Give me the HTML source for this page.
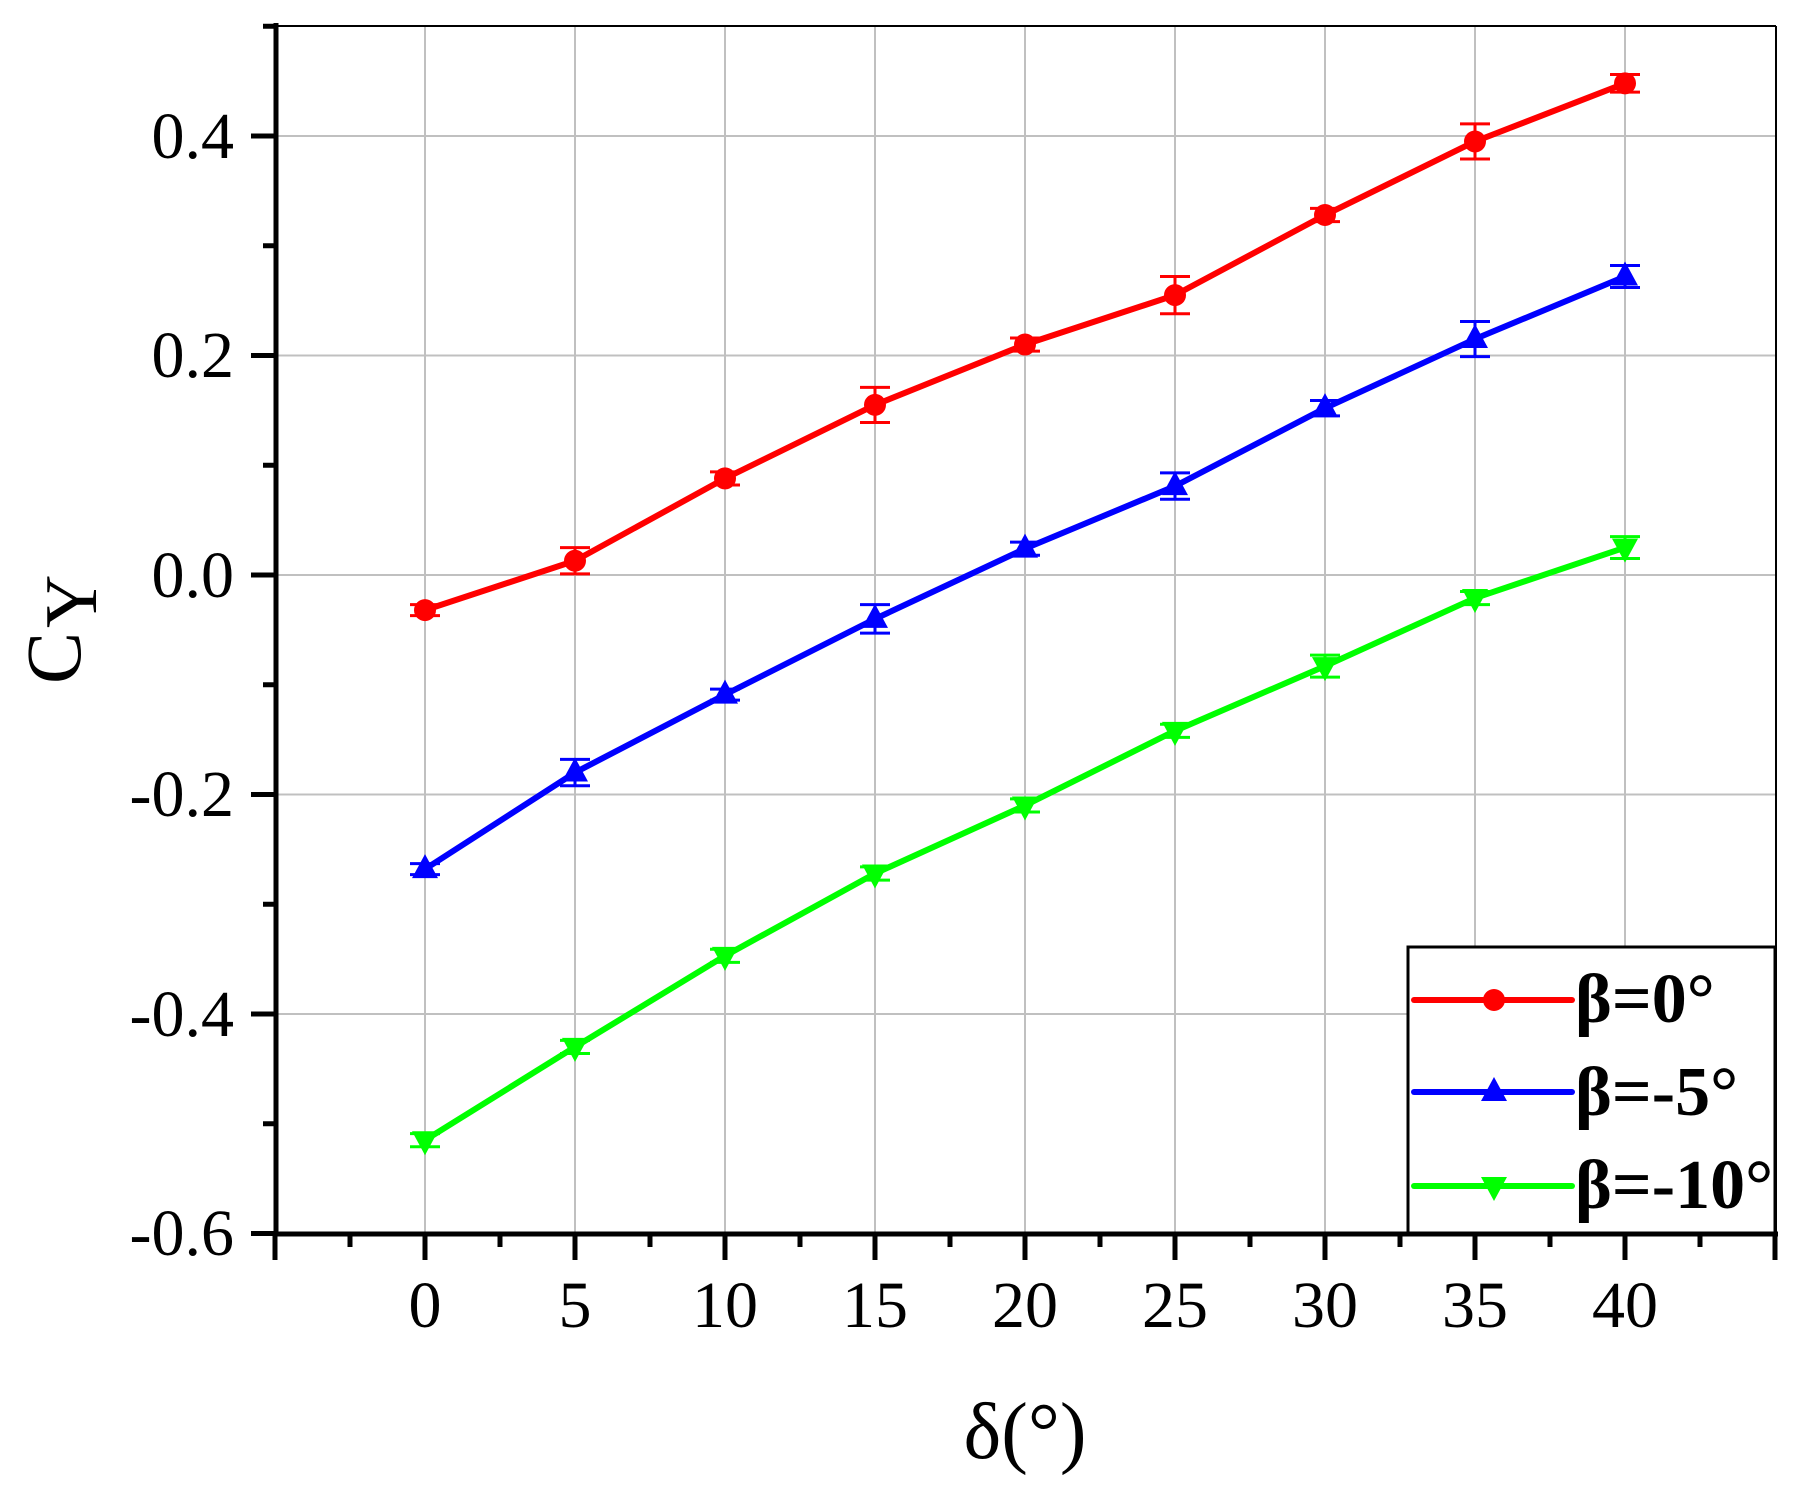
<!DOCTYPE html>
<html><head><meta charset="utf-8"><style>html,body{margin:0;padding:0;background:#fff}svg{display:block}svg text{font-family:"Liberation Serif","Times New Roman",Times,serif}</style></head>
<body>
<svg xmlns="http://www.w3.org/2000/svg" width="1800" height="1499" viewBox="0 0 1800 1499">
<rect width="1800" height="1499" fill="#fff"/>
<g stroke="#c0c0c0" stroke-width="2">
<line x1="425" y1="26" x2="425" y2="1234"/><line x1="575" y1="26" x2="575" y2="1234"/><line x1="725" y1="26" x2="725" y2="1234"/><line x1="875" y1="26" x2="875" y2="1234"/><line x1="1025" y1="26" x2="1025" y2="1234"/><line x1="1175" y1="26" x2="1175" y2="1234"/><line x1="1325" y1="26" x2="1325" y2="1234"/><line x1="1475" y1="26" x2="1475" y2="1234"/><line x1="1625" y1="26" x2="1625" y2="1234"/>
<line x1="276" y1="136" x2="1776" y2="136"/><line x1="276" y1="355.5" x2="1776" y2="355.5"/><line x1="276" y1="575" x2="1776" y2="575"/><line x1="276" y1="794.5" x2="1776" y2="794.5"/><line x1="276" y1="1014" x2="1776" y2="1014"/>
</g>
<line x1="276" y1="26" x2="1776" y2="26" stroke="#000" stroke-width="2"/>
<line x1="1776" y1="26" x2="1776" y2="1234" stroke="#000" stroke-width="2"/>
<g id="data"></g>
<rect x="1408" y="947" width="367" height="287" fill="#fff" stroke="#000" stroke-width="3"/>
<g stroke="#000" stroke-width="5" fill="none">
<line x1="276" y1="23" x2="276" y2="1236"/>
<line x1="273" y1="1234" x2="1778" y2="1234"/>
</g>
<g id="ticks" stroke="#000" stroke-width="5"></g>
<g font-size="66" text-anchor="end" fill="#000">
<text x="234" y="158">0.4</text><text x="234" y="377">0.2</text><text x="234" y="597">0.0</text><text x="234" y="816">-0.2</text><text x="234" y="1036">-0.4</text><text x="234" y="1255">-0.6</text>
</g>
<g font-size="66" text-anchor="middle" fill="#000">
<text x="425" y="1327">0</text><text x="575" y="1327">5</text><text x="725" y="1327">10</text><text x="875" y="1327">15</text><text x="1025" y="1327">20</text><text x="1175" y="1327">25</text><text x="1325" y="1327">30</text><text x="1475" y="1327">35</text><text x="1625" y="1327">40</text>
</g>
<text x="1025" y="1458" font-size="80" text-anchor="middle">δ(°)</text>
<text transform="translate(80,684) rotate(-90)" font-size="78">C<tspan font-size="74" dy="16" dx="4">Y</tspan></text>
<g font-size="70" font-weight="bold" fill="#000">
<text x="1575" y="1022">β=0°</text><text x="1575" y="1115">β=-5°</text><text x="1575" y="1208">β=-10°</text>
</g>
<g stroke-width="6" stroke-linecap="round">
<line x1="1414" y1="1000" x2="1572" y2="1000" stroke="#ff0000"/>
<line x1="1414" y1="1092" x2="1572" y2="1092" stroke="#0000ff"/>
<line x1="1414" y1="1186" x2="1572" y2="1186" stroke="#00ff00"/>
</g>
<circle cx="1494" cy="1000" r="11" fill="#ff0000"/>
<polygon points="1494,1077 1507,1101 1481,1101" fill="#0000ff"/>
<polygon points="1494,1201 1507,1177 1481,1177" fill="#00ff00"/>
<script>
var NS="http://www.w3.org/2000/svg";
function X(v){return 425+30*v}function Y(v){return 575-1097.5*v}
function el(p,t,a){var e=document.createElementNS(NS,t);for(var k in a)e.setAttribute(k,a[k]);p.appendChild(e);return e}
var tk=document.getElementById('ticks');
for(var i=0;i<=20;i++){var v=-5+i*2.5;var x=X(v);var maj=i%2==0;el(tk,'line',{x1:x,y1:1234,x2:x,y2:maj?1260:1247});}
for(var i=0;i<=11;i++){var v=-0.6+i*0.1;var y=Y(v);var maj=i%2==0;el(tk,'line',{x1:maj?251:263,y1:y,x2:276,y2:y});}
var S=[
{c:'#ff0000',m:'o',y:[-0.032,0.013,0.088,0.155,0.21,0.255,0.328,0.395,0.448],e:[0.005,0.012,0.006,0.016,0.006,0.017,0.006,0.016,0.008]},
{c:'#0000ff',m:'u',y:[-0.268,-0.18,-0.109,-0.04,0.024,0.081,0.152,0.215,0.272],e:[0.005,0.012,0.005,0.013,0.006,0.012,0.007,0.016,0.01]},
{c:'#00ff00',m:'d',y:[-0.515,-0.43,-0.347,-0.272,-0.21,-0.142,-0.083,-0.021,0.025],e:[0.006,0.006,0.006,0.006,0.006,0.006,0.01,0.006,0.01]}];
var g=document.getElementById('data');
S.forEach(function(s){var pts=s.y.map(function(v,i){return X(i*5)+','+Y(v)}).join(' ');
el(g,'polyline',{points:pts,fill:'none',stroke:s.c,'stroke-width':6,'stroke-linejoin':'round'});
s.y.forEach(function(v,i){var x=X(i*5),y=Y(v),t=Y(v+s.e[i]),b=Y(v-s.e[i]);
el(g,'line',{x1:x,y1:t,x2:x,y2:b,stroke:s.c,'stroke-width':3});
el(g,'line',{x1:x-15,y1:t,x2:x+15,y2:t,stroke:s.c,'stroke-width':3});
el(g,'line',{x1:x-15,y1:b,x2:x+15,y2:b,stroke:s.c,'stroke-width':3});
if(s.m=='o')el(g,'circle',{cx:x,cy:y,r:11,fill:s.c});
else if(s.m=='u')el(g,'polygon',{points:x+','+(y-15)+' '+(x+13)+','+(y+9)+' '+(x-13)+','+(y+9),fill:s.c});
else el(g,'polygon',{points:x+','+(y+15)+' '+(x+13)+','+(y-9)+' '+(x-13)+','+(y-9),fill:s.c});});});
</script>
</svg>
</body></html>
